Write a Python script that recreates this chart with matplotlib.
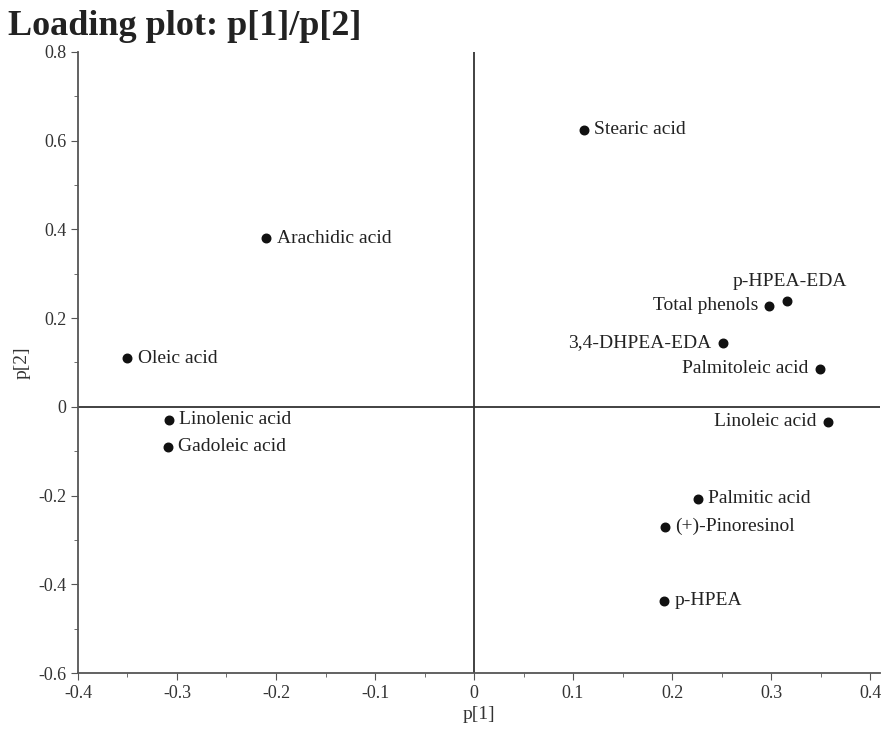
import numpy as np
import matplotlib.pyplot as plt

plt.rcParams['font.family'] = ['Liberation Serif', 'DejaVu Serif']

names = ["Stearic acid", "Arachidic acid", "p-HPEA-EDA", "Total phenols",
         "3,4-DHPEA-EDA", "Palmitoleic acid", "Oleic acid", "Linolenic acid",
         "Gadoleic acid", "Linoleic acid", "Palmitic acid", "(+)-Pinoresinol",
         "p-HPEA"]
p1 = [0.111, -0.210, 0.316, 0.298, 0.251, 0.349, -0.350, -0.308,
      -0.309, 0.357, 0.226, 0.193, 0.192]
p2 = [0.624, 0.380, 0.239, 0.228, 0.144, 0.086, 0.110, -0.029,
      -0.090, -0.034, -0.207, -0.270, -0.437]
# label placement: 'r' = right of point, 'l' = left, 'ul' = above-left
side = ['r', 'r', 'ul', 'l', 'l', 'l', 'r', 'r', 'r', 'l', 'r', 'r', 'r']

fig = plt.figure(figsize=(8.83, 7.29), dpi=100)
ax = fig.add_axes([0.0883, 0.0768, 0.9083, 0.852])

ax.axhline(0, color='#333333', lw=1.3, zorder=1)
ax.axvline(0, color='#333333', lw=1.3, zorder=1)
ax.scatter(p1, p2, s=38, color='#111111', zorder=3)

for n, x, y, s in zip(names, p1, p2, side):
    if s == 'r':
        ax.annotate(n, (x, y), xytext=(7.5, 0), textcoords='offset points',
                    ha='left', va='center', fontsize=14, color='#222222')
    elif s == 'l':
        ax.annotate(n, (x, y), xytext=(-8, 0), textcoords='offset points',
                    ha='right', va='center', fontsize=14, color='#222222')
    else:
        ax.annotate(n, (x, y), xytext=(43, 8), textcoords='offset points',
                    ha='right', va='bottom', fontsize=14, color='#222222')

ax.set_xlim(-0.4, 0.41)
ax.set_ylim(-0.6, 0.8)
ax.set_xticks(np.arange(-0.4, 0.41, 0.1))
ax.set_xticklabels(['-0.4', '-0.3', '-0.2', '-0.1', '0', '0.1', '0.2', '0.3', '0.4'])
ax.set_xticks(np.arange(-0.35, 0.41, 0.1), minor=True)
ax.set_yticks(np.arange(-0.6, 0.81, 0.2))
ax.set_yticklabels(['-0.6', '-0.4', '-0.2', '0', '0.2', '0.4', '0.6', '0.8'])
ax.set_yticks(np.arange(-0.5, 0.8, 0.2), minor=True)
ax.tick_params(which='both', direction='out', color='#555555', labelsize=13,
               labelcolor='#333333')
ax.tick_params(which='major', length=5)
ax.tick_params(which='minor', length=3)

for sp in ['top', 'right']:
    ax.spines[sp].set_visible(False)
for sp in ['left', 'bottom']:
    ax.spines[sp].set_color('#555555')
    ax.spines[sp].set_linewidth(1.3)

ax.set_xlabel('p[1]', fontsize=14, color='#333333', labelpad=3)
ax.set_ylabel('p[2]', fontsize=14, color='#333333', labelpad=5)

fig.text(0.009, 0.986, 'Loading plot: p[1]/p[2]', fontsize=26, fontweight='bold',
         color='#222222', ha='left', va='top')

fig.savefig('out.png', dpi=100)
